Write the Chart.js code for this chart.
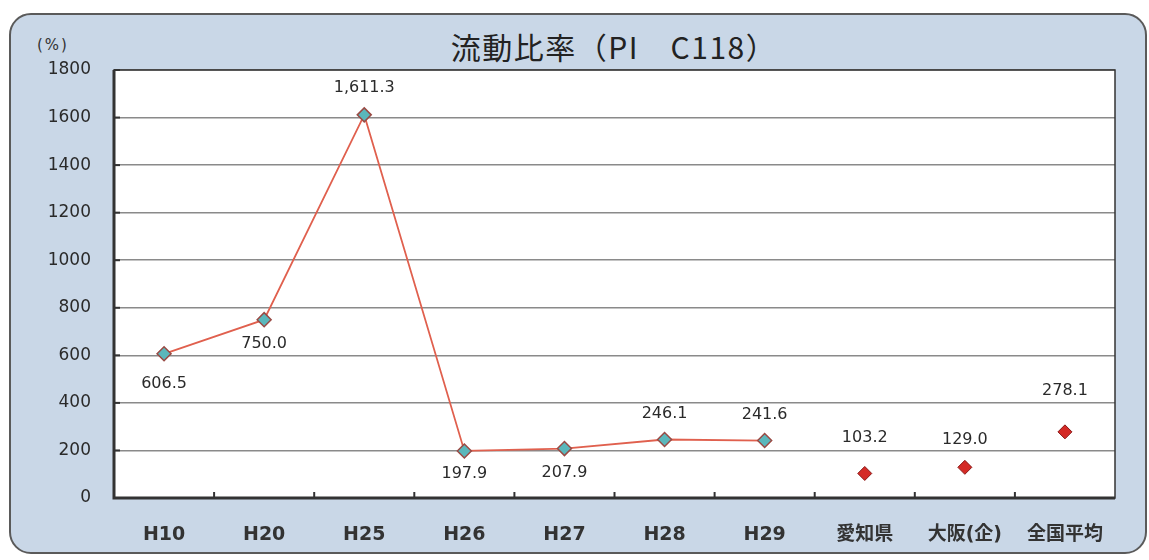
<!DOCTYPE html>
<html>
<head>
<meta charset="utf-8">
<script src="https://cdn.jsdelivr.net/npm/chart.js@4/dist/chart.umd.min.js"></script>
<style>
  html, body { margin: 0; padding: 0; background: #fff; }
  #wrap { position: relative; width: 1149px; height: 560px; overflow: hidden; }
  #panel {
    position: absolute; left: 9px; top: 13px; width: 1138px; height: 541px;
    background: #c9d7e7; border: 2px solid #5a5a5a; border-radius: 22px; box-sizing: border-box;
  }
  #title {
    position: absolute; left: 0; width: 1228px; top: 24px; text-align: center;
    font: 400 30px "Noto Sans CJK JP", sans-serif; color: #222; letter-spacing: 1.5px;
  }
  #unit {
    position: absolute; left: 37px; top: 36px;
    font: 15px "DejaVu Sans", sans-serif; color: #333; letter-spacing: 2px;
  }
  canvas { position: absolute; left: 0; top: 0; }
</style>
</head>
<body>
<div id="wrap">
  <div id="panel"></div>
  <div id="title">流動比率（PI　C118）</div>
  <div id="unit">(%)</div>
  <canvas id="c" width="1149" height="560"></canvas>
</div>
<script>
// 年度・比較対象
const categories = ['H10', 'H20', 'H25', 'H26', 'H27', 'H28', 'H29', '愛知県', '大阪(企)', '全国平均'];
// 推移（折れ線）
const trendValues = [606.5, 750.0, 1611.3, 197.9, 207.9, 246.1, 241.6, null, null, null];
// 比較値（点のみ）
const compareValues = [null, null, null, null, null, null, null, 103.2, 129.0, 278.1];
// ラベル表示テキスト
const valueLabels = ['606.5', '750.0', '1,611.3', '197.9', '207.9', '246.1', '241.6', '103.2', '129.0', '278.1'];
const yTicks = [0, 200, 400, 600, 800, 1000, 1200, 1400, 1600, 1800];

// ラベルの縦方向のずらし量（px、スタイル設定）
const labelOffsets = [30, 24, -27, 23, 24, -26, -26, -36, -27, -41];

const FONT = '"DejaVu Sans", "Noto Sans CJK JP", sans-serif';

// プロット領域の背景と枠
const plotFrame = {
  id: 'plotFrame',
  beforeDraw(chart) {
    const { ctx, chartArea: a } = chart;
    ctx.save();
    ctx.fillStyle = '#ffffff';
    ctx.fillRect(a.left, a.top, a.right - a.left, a.bottom - a.top);
    ctx.restore();
  },
  afterDatasetsDraw(chart) {
    const { ctx, chartArea: a, scales } = chart;
    ctx.save();
    ctx.strokeStyle = '#333';
    ctx.lineWidth = 1.5;
    ctx.strokeRect(a.left, a.top, a.right - a.left, a.bottom - a.top);
    ctx.lineWidth = 3;
    ctx.beginPath();
    ctx.moveTo(a.left, a.top);
    ctx.lineTo(a.left, a.bottom);
    ctx.lineTo(a.right, a.bottom);
    ctx.stroke();
    // 内向き目盛り
    ctx.lineWidth = 2;
    const x = scales.x;
    for (let i = 1; i < categories.length; i++) {
      const px = (x.getPixelForValue(i - 1) + x.getPixelForValue(i)) / 2;
      ctx.beginPath();
      ctx.moveTo(px, a.bottom);
      ctx.lineTo(px, a.bottom - 6);
      ctx.stroke();
    }
    const y = scales.y;
    yTicks.forEach(v => {
      const py = y.getPixelForValue(v);
      ctx.beginPath();
      ctx.moveTo(a.left, py);
      ctx.lineTo(a.left + 6, py);
      ctx.stroke();
    });
    ctx.restore();
  }
};

// データラベル
const valueLabelPlugin = {
  id: 'valueLabels',
  afterDatasetsDraw(chart) {
    const { ctx, scales } = chart;
    ctx.save();
    ctx.font = '16px ' + FONT;
    ctx.fillStyle = '#2a2a2a';
    ctx.textAlign = 'center';
    ctx.textBaseline = 'middle';
    categories.forEach((c, i) => {
      const v = trendValues[i] != null ? trendValues[i] : compareValues[i];
      const px = scales.x.getPixelForValue(i);
      const py = scales.y.getPixelForValue(v);
      ctx.fillText(valueLabels[i], px, py + labelOffsets[i]);
    });
    ctx.restore();
  }
};

new Chart(document.getElementById('c'), {
  type: 'line',
  data: {
    labels: categories,
    datasets: [
      {
        data: trendValues,
        borderColor: '#e0604e',
        borderWidth: 1.8,
        pointStyle: 'rectRot',
        pointRadius: 7,
        pointBackgroundColor: '#5ab7bb',
        pointBorderColor: '#9a4a44',
        pointBorderWidth: 1.5,
        spanGaps: false,
        tension: 0
      },
      {
        data: compareValues,
        showLine: false,
        pointStyle: 'rectRot',
        pointRadius: 7,
        pointBackgroundColor: '#d42a26',
        pointBorderColor: '#8a1a18',
        pointBorderWidth: 1
      }
    ]
  },
  options: {
    responsive: false,
    animation: false,
    layout: { padding: { top: 70, right: 34, left: 0, bottom: 0 } },
    plugins: { legend: { display: false }, tooltip: { enabled: false } },
    scales: {
      x: {
        offset: true,
        grid: { display: false },
        border: { display: false },
        ticks: { padding: 18, color: '#333', font: { family: FONT, size: 19, weight: 'bold' } },
        afterFit(scale) { scale.height = 62; }
      },
      y: {
        min: 0,
        max: 1800,
        afterBuildTicks(scale) { scale.ticks = yTicks.map(v => ({ value: v })); },
        grid: { color: '#8a8a8a', lineWidth: 1.5, drawTicks: false },
        border: { display: false },
        ticks: {
          padding: 23, color: '#2a2a2a', font: { family: FONT, size: 17 },
          callback: v => String(v)
        },
        afterFit(scale) { scale.width = 114; }
      }
    }
  },
  plugins: [plotFrame, valueLabelPlugin]
});
</script>
</body>
</html>
